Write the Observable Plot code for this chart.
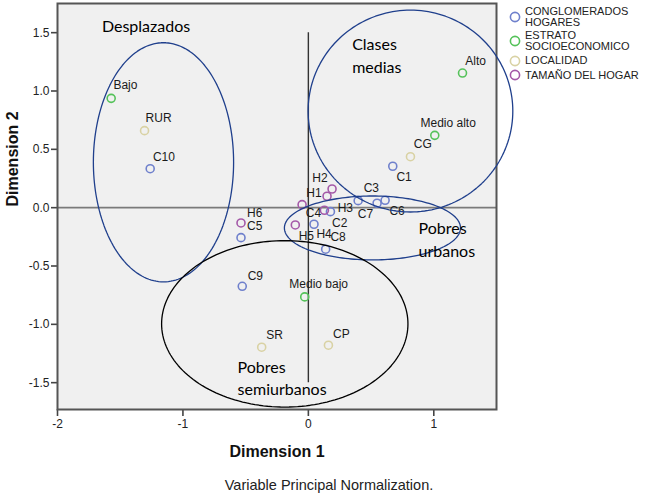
<!DOCTYPE html>
<html>
<head>
<meta charset="utf-8">
<script src="https://cdn.jsdelivr.net/npm/d3@7"></script>
<script src="https://cdn.jsdelivr.net/npm/@observablehq/plot@0.6"></script>
<style>
  html, body { margin: 0; padding: 0; background: #fff; }
  #wrap { position: relative; width: 650px; height: 494px; font-family: "Liberation Sans", Arial, sans-serif; }
  #legend { position: absolute; left: 509px; top: 5.7px; display: flex; flex-direction: column; gap: 2.5px; }
  .item { display: flex; align-items: center; font-size: 11px; line-height: 11px; color: #222; }
  .item svg { flex: none; margin-right: 4px; }
  #caption { position: absolute; left: 0; width: 658px; top: 476px; text-align: center; font-size: 14.5px; line-height: 18px; color: #222; }
</style>
</head>
<body>
<div id="wrap">
  <div id="chart"></div>
  <div id="legend"></div>
  <div id="caption">Variable Principal Normalization.</div>
</div>
<script>
// ---- data ----
const categories = ["CONGLOMERADOS HOGARES", "ESTRATO SOCIOECONOMICO", "LOCALIDAD", "TAMAÑO DEL HOGAR"];
const legendLines = [["CONGLOMERADOS", "HOGARES"], ["ESTRATO", "SOCIOECONOMICO"], ["LOCALIDAD"], ["TAMAÑO DEL HOGAR"]];
const colors = ["#6f80cc", "#55c25a", "#d9d2a4", "#a459a8"];

const names = ["C1","C2","C3","C4","C5","C6","C7","C8","C9","C10",
               "Bajo","Medio bajo","Medio alto","Alto",
               "RUR","SR","CP","CG",
               "H1","H2","H3","H4","H5","H6"];
const groups = [0,0,0,0,0,0,0,0,0,0, 1,1,1,1, 2,2,2,2, 3,3,3,3,3,3];
const dim1 = [0.673, 0.176, 0.397, 0.045, -0.537, 0.612, 0.548, 0.138, -0.527, -1.261,
              -1.572, -0.029, 1.008, 1.229,
              -1.306, -0.372, 0.160, 0.814,
              -0.050, 0.189, 0.149, 0.128, -0.104, -0.537];
const dim2 = [0.355, -0.034, 0.060, -0.142, -0.257, 0.063, 0.038, -0.356, -0.674, 0.334,
              0.937, -0.765, 0.620, 1.154,
              0.660, -1.196, -1.179, 0.437,
              0.026, 0.160, 0.098, -0.022, -0.148, -0.131];
// where each point's label sits (in Dimension units)
const labelX = [0.702, 0.189, 0.441, -0.021, -0.489, 0.646, 0.394, 0.176, -0.484, -1.239,
                -1.554, -0.152, 0.894, 1.251,
                -1.298, -0.335, 0.197, 0.841,
                -0.016, 0.032, 0.234, 0.064, -0.077, -0.489];
const labelY = [0.263, -0.129, 0.166, -0.043, -0.157, -0.028, -0.057, -0.251, -0.585, 0.437,
                1.049, -0.657, 0.728, 1.257,
                0.771, -1.091, -1.085, 0.543,
                0.123, 0.257, 0.0, -0.228, -0.243, -0.043];

const xTicks = [-2, -1, 0, 1];
const yTicks = [-1.5, -1.0, -0.5, 0.0, 0.5, 1.0, 1.5];

// hand-drawn group ellipses (center and radii in Dimension units)
const groupNames = ["Desplazados", "Clases medias", "Pobres urbanos", "Pobres semiurbanos"];
const ellCx = [-1.155, 0.814, 0.511, -0.188];
const ellCy = [0.389, 0.828, -0.174, -0.996];
const ellRx = [0.559, 0.816, 0.702, 0.982];
const ellRy = [1.025, 0.865, 0.274, 0.713];
const ellColor = ["#1f3f8c", "#1f3f8c", "#1f3f8c", "#000000"];

// annotation text lines
const noteText = ["Desplazados", "Clases", "medias", "Pobres", "urbanos", "Pobres", "semiurbanos"];
const noteX = [-1.646, 0.349, 0.349, 0.878, 0.878, -0.564, -0.564];
const noteY = [1.551, 1.393, 1.199, -0.182, -0.375, -1.370, -1.563];

// ---- build ----
const points = names.map((n, i) => ({name: n, group: groups[i], x: dim1[i], y: dim2[i], lx: labelX[i], ly: labelY[i]}));
const ellipsePts = [];
groupNames.forEach((g, k) => {
  d3.range(0, 181).forEach(j => {
    const t = (j / 180) * 2 * Math.PI;
    ellipsePts.push({k, x: ellCx[k] + ellRx[k] * Math.cos(t), y: ellCy[k] + ellRy[k] * Math.sin(t)});
  });
});
const notes = noteText.map((t, i) => ({t, x: noteX[i], y: noteY[i]}));

const chart = Plot.plot({
  width: 650,
  height: 465,
  marginLeft: 57,
  marginRight: 154,
  marginTop: 3,
  marginBottom: 56,
  style: {fontFamily: "'Liberation Sans', Arial, sans-serif", fontSize: "12px", background: "transparent", overflow: "visible"},
  x: {domain: [-2, 1.5], label: null, axis: null},
  y: {domain: [-1.73, 1.75], label: null, axis: null},
  marks: [
    Plot.frame({fill: "#f0f0f0", stroke: null}),
    Plot.ruleY([0], {stroke: "#7a7a7a", strokeWidth: 1.6}),
    Plot.ruleX([0], {y1: 1.5, y2: -1.5, stroke: "#333", strokeWidth: 1.4}),
    Plot.axisX({ticks: xTicks, tickFormat: d => String(d), tickSize: 7, tickPadding: 3, color: "#444", strokeWidth: 1.6, fill: "#222", fontSize: 12, label: null}),
    Plot.axisY({ticks: yTicks, tickFormat: d => d.toFixed(1), tickSize: 6, tickPadding: 2, color: "#444", strokeWidth: 1.6, fill: "#222", fontSize: 12, label: null}),
    Plot.frame({stroke: "#555", strokeWidth: 2}),
    Plot.dot(points, {x: "x", y: "y", r: 4, stroke: d => colors[d.group], strokeWidth: 1.6, fill: "none"}),
    Plot.text(points, {x: "lx", y: "ly", text: "name", textAnchor: "start", lineAnchor: "middle", fill: "#1a1a1a", fontSize: 12}),
    Plot.line(ellipsePts, {x: "x", y: "y", z: "k", stroke: d => ellColor[d.k], strokeWidth: 1.3, curve: "linear"}),
    Plot.text(notes, {x: "x", y: "y", text: "t", textAnchor: "start", lineAnchor: "middle", fill: "#000", fontSize: 16, fontFamily: "Lato, 'Open Sans', sans-serif"}),
    Plot.text(["Dimension 1"], {frameAnchor: "bottom", dy: 42, lineAnchor: "middle", fontWeight: "bold", fontSize: 16, fill: "#111"}),
    Plot.text(["Dimension 2"], {frameAnchor: "left", dx: -45, rotate: -90, lineAnchor: "middle", fontWeight: "bold", fontSize: 16, fill: "#111"})
  ]
});
document.getElementById("chart").appendChild(chart);

// legend
const legend = d3.select("#legend");
categories.forEach((c, i) => {
  const item = legend.append("div").attr("class", "item").attr("title", c);
  const s = item.append("svg").attr("width", 12).attr("height", 12);
  s.append("circle").attr("cx", 6).attr("cy", 6).attr("r", 4.6).attr("fill", "none").attr("stroke", colors[i]).attr("stroke-width", 1.6);
  const tx = item.append("div");
  legendLines[i].forEach(l => tx.append("div").text(l));
});
</script>
</body>
</html>
